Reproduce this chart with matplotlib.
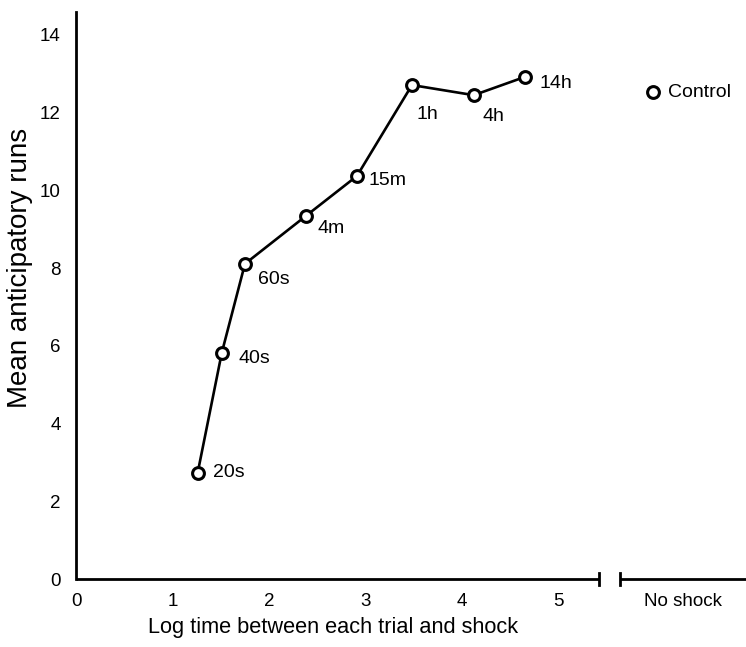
import matplotlib.pyplot as plt

plt.rcParams['font.family'] = ['Liberation Sans', 'DejaVu Sans']

# log10 of seconds between trial and shock
log_time = [1.26, 1.51, 1.75, 2.38, 2.91, 3.48, 4.12, 4.65]
mean_runs = [2.73, 5.82, 8.11, 9.34, 10.37, 12.71, 12.45, 12.92]
point_labels = ['20s', '40s', '60s', '4m', '15m', '1h', '4h', '14h']
# label offsets in pixels (dx, dy)
label_offsets = [(15, 0), (17, -6), (13, -16), (12, -12), (12, -5), (5, -29), (9, -21), (15, -7)]

control_x = 5.98
control_runs = 12.53

x_ticks = [0, 1, 2, 3, 4, 5]
y_ticks = [0, 2, 4, 6, 8, 10, 12, 14]

fig = plt.figure(figsize=(7.46, 6.47), dpi=100)
ax = fig.add_axes([76 / 746, 68 / 647, 670 / 746, 567 / 647])
ax.set_xlim(0, 6.94)
ax.set_ylim(0, 14.59)

ax.plot(log_time, mean_runs, color='black', lw=1.9, marker='o', ms=8.5,
        mfc='white', mec='black', mew=2.2, zorder=3)
for x, y, lab, (dx, dy) in zip(log_time, mean_runs, point_labels, label_offsets):
    ax.annotate(lab, (x, y), xytext=(dx, dy), textcoords='offset pixels',
                ha='left', va='center', fontsize=14)

ax.plot([control_x], [control_runs], marker='o', ms=8.5, mfc='white',
        mec='black', mew=2.2, ls='none', zorder=3)
ax.annotate('Control', (control_x, control_runs), xytext=(15, 0),
            textcoords='offset pixels', ha='left', va='center', fontsize=14)

# spines: left normal, bottom drawn broken
for s in ['top', 'right', 'bottom']:
    ax.spines[s].set_visible(False)
ax.spines['left'].set_linewidth(2)
ax.spines['left'].set_capstyle('projecting')

ax.plot([0, 5.42], [0, 0], color='black', lw=2, clip_on=False, solid_capstyle='butt')
ax.plot([5.63, 6.94], [0, 0], color='black', lw=2, clip_on=False, solid_capstyle='butt')
for bx in [5.42, 5.63]:
    ax.plot([bx, bx], [-0.16, 0.16], color='black', lw=2, clip_on=False)

ax.set_xticks(x_ticks + [6.29])
ax.set_xticklabels([str(t) for t in x_ticks] + ['No shock'], fontsize=13.5)
ax.set_yticks(y_ticks)
ax.set_yticklabels([str(t) for t in y_ticks], fontsize=13.5)
ax.tick_params(axis='x', length=0, pad=10)
ax.tick_params(axis='y', length=0, pad=11)

fig.text(333 / 746, 1 - 628 / 647, 'Log time between each trial and shock',
         ha='center', va='center', fontsize=15.7)
fig.text(20 / 746, 1 - 268 / 647, 'Mean anticipatory runs',
         ha='center', va='center', rotation=90, fontsize=20)

fig.savefig('out.png', dpi=100)
